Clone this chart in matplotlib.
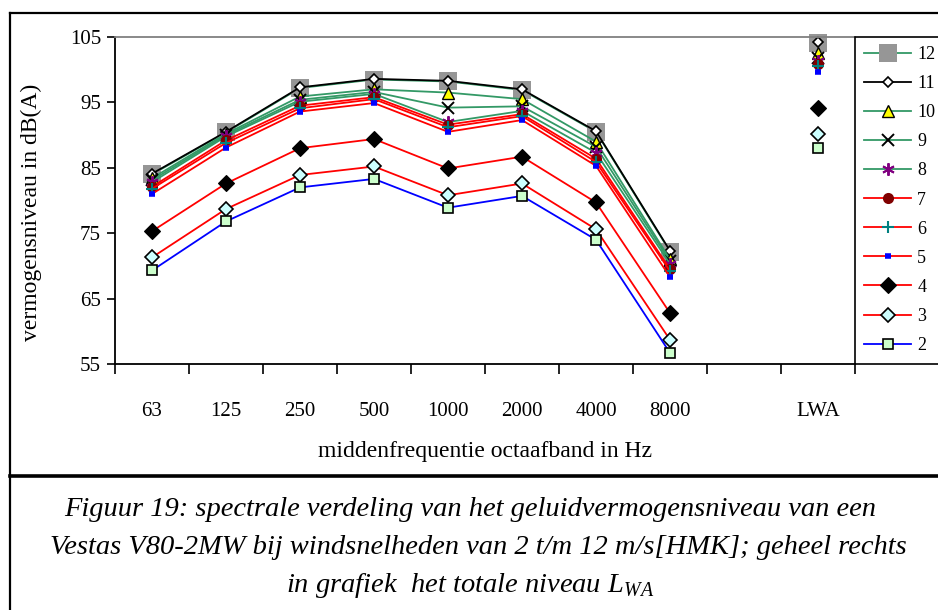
import numpy as np
import matplotlib
matplotlib.use("Agg")
import matplotlib.pyplot as plt
from matplotlib.lines import Line2D
from matplotlib.patches import Rectangle

nan = np.nan
categories = ['63', '125', '250', '500', '1000', '2000', '4000', '8000', '', 'LWA']
s2 = [69.3, 76.8, 82.0, 83.3, 78.9, 80.7, 74.0, 56.7, nan, 88.1]
s3 = [71.3, 78.7, 83.9, 85.2, 80.8, 82.6, 75.6, 58.7, nan, 90.1]
s4 = [75.3, 82.6, 88.0, 89.4, 84.9, 86.7, 79.7, 62.8, nan, 94.1]
s5 = [81.0, 88.1, 93.6, 94.9, 90.5, 92.3, 85.3, 68.3, nan, 99.7]
s6 = [81.8, 88.8, 94.1, 95.5, 91.2, 92.9, 85.9, 69.2, nan, 100.5]
s7 = [82.1, 89.2, 94.5, 95.8, 91.6, 93.2, 86.4, 69.5, nan, 100.9]
s8 = [82.8, 89.8, 95.1, 96.3, 92.0, 93.7, 87.3, 70.3, nan, 101.3]
s9 = [83.1, 90.0, 95.4, 96.6, 94.2, 94.4, 88.2, 70.7, nan, 101.8]
s10 = [83.4, 90.2, 95.9, 97.0, 96.5, 95.5, 89.0, 71.0, nan, 102.5]
s11 = [84.1, 90.5, 97.3, 98.6, 98.3, 97.0, 90.6, 72.3, nan, 104.3]
s12 = [84.0, 90.4, 97.2, 98.5, 98.2, 96.9, 90.5, 72.2, nan, 104.1]
series_names = ['12', '11', '10', '9', '8', '7', '6', '5', '4', '3', '2']
series_values = [s12, s11, s10, s9, s8, s7, s6, s5, s4, s3, s2]
yticks = [55, 65, 75, 85, 95, 105]

GREEN = '#339966'
RED = '#FF0000'
styles = {
    '12': dict(color=GREEN, marker='s', ms=13, mfc='#969696', mec='#969696', mew=0),
    '11': dict(color='black', marker='D', ms=5, mfc='white', mec='black', mew=1.2),
    '10': dict(color=GREEN, marker='^', ms=8, mfc='#FFFF00', mec='black', mew=1.0),
    '9': dict(color=GREEN, marker='x', ms=8, mfc='black', mec='black', mew=1.4),
    '8': dict(color=GREEN, marker=(6, 2, 0), ms=9, mfc='#800080', mec='#800080', mew=1.4),
    '7': dict(color=RED, marker='o', ms=8, mfc='#800000', mec='#800000', mew=0),
    '6': dict(color=RED, marker='+', ms=9, mfc='#008080', mec='#008080', mew=1.5),
    '5': dict(color=RED, marker='_', ms=5, mfc='#0000FF', mec='#0000FF', mew=4),
    '4': dict(color=RED, marker='D', ms=8, mfc='black', mec='black', mew=0.8),
    '3': dict(color=RED, marker='D', ms=7, mfc='#CCFFFF', mec='black', mew=1.2),
    '2': dict(color='#0000FF', marker='s', ms=7, mfc='#CCFFCC', mec='black', mew=1.2),
}

W, H = 938, 610
fig = plt.figure(figsize=(W / 100, H / 100), dpi=100)
plt.rcParams['font.family'] = ['Liberation Serif', 'DejaVu Serif']

def fx(px):
    return px / W

def fy(py):
    return 1 - py / H

ax = fig.add_axes([fx(115), fy(364), fx(855) - fx(115), fy(37) - fy(364)])
x = np.arange(len(categories))
handles = []
for name, vals in zip(series_names, series_values):
    st = styles[name]
    ln, = ax.plot(x, vals, color=st['color'], lw=1.3, marker=st['marker'],
                  markersize=st['ms'], markerfacecolor=st['mfc'],
                  markeredgecolor=st['mec'], markeredgewidth=st['mew'], clip_on=False)
    handles.append(ln)

ax.set_xlim(-0.5, len(categories) - 0.5)
ax.set_ylim(55, 105)
ax.set_yticks(yticks)
ax.set_yticklabels([str(t) for t in yticks], fontsize=15)
ax.set_xticks(x)
ax.set_xticklabels(categories, fontsize=15)
ax.set_xticks(np.arange(-0.5, len(categories), 1.0), minor=True)
ax.tick_params(axis='x', which='major', length=0, pad=27)
ax.tick_params(axis='x', which='minor', length=7, width=1.2, direction='out')
ax.tick_params(axis='y', which='major', length=6, width=1.2, direction='out', pad=4)
for s in ['left', 'bottom']:
    ax.spines[s].set_linewidth(1.3)
ax.spines['top'].set_color('#808080')
ax.spines['top'].set_linewidth(1.3)
ax.spines['right'].set_visible(False)

fig.text(fx(31), fy(212), 'vermogensniveau in dB(A)', fontsize=17, rotation=90,
         ha='center', va='center')
fig.text(fx(485), fy(452), 'middenfrequentie octaafband in Hz', fontsize=17,
         ha='center', va='center')

leg = ax.legend(handles, series_names, loc='upper left',
                bbox_to_anchor=(fx(855), fy(364), fx(975) - fx(855), fy(37) - fy(364)),
                bbox_transform=fig.transFigure, mode='expand', frameon=False,
                fontsize=13, handlelength=2.6,
                handletextpad=0.35, labelspacing=0.67, borderaxespad=0,
                borderpad=0.5)
fig.add_artist(Rectangle((fx(855), fy(364)), fx(990) - fx(855), fy(37) - fy(364),
                         transform=fig.transFigure, fill=False, edgecolor='black',
                         lw=1.2, clip_on=False))

# outer frames
border = dict(color='black', lw=1.6, transform=fig.transFigure, clip_on=False)
fig.add_artist(Line2D([fx(10), 1.0], [fy(13), fy(13)], **border))
fig.add_artist(Line2D([fx(10), fx(10)], [fy(13), 0.0], **border))
fig.add_artist(Line2D([fx(10), 1.0], [fy(476), fy(476)], color='black', lw=2.6,
                      transform=fig.transFigure))

caption = ['Figuur 19: spectrale verdeling van het geluidvermogensniveau van een',
           'Vestas V80-2MW bij windsnelheden van 2 t/m 12 m/s[HMK]; geheel rechts',
           'in grafiek  het totale niveau L$_{\\mathregular{WA}}$']
caption_x = [470, 478, 470]
for i, line in enumerate(caption):
    fig.text(fx(caption_x[i]), fy(509 + 38 * i), line, fontsize=20.5, style='italic',
             ha='center', va='center')

fig.savefig('out.png', dpi=100)
